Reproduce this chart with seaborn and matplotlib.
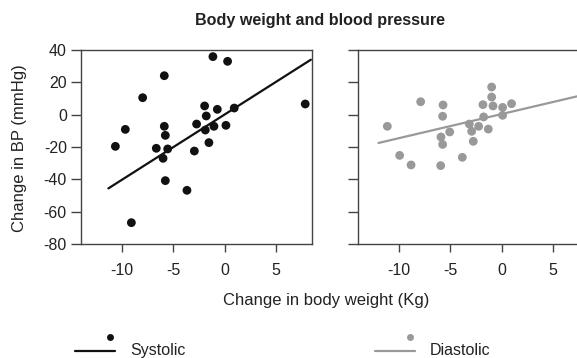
import matplotlib
matplotlib.use("Agg")
import matplotlib.pyplot as plt
import seaborn as sns
from matplotlib.lines import Line2D

sns.set_style("white")
plt.rcParams['font.family'] = ['Liberation Sans', 'DejaVu Sans']

# Systolic data
sys_x = [-10.65, -9.68, -9.09, -7.99, -5.88, -5.88, -5.78, -6.66, -5.55, -6.0, -5.78, -3.67, -2.95,
         -2.73, -1.95, -1.79, -1.88, -1.53, -1.04, -1.14, -0.71, 0.13, 0.29, 0.94, 7.86]
sys_y = [-19.6, -9.1, -66.8, 10.5, 24.1, -7.2, -12.8, -20.8, -21.2, -27.0, -40.8, -46.8, -22.5,
         -5.8, 5.4, -0.8, -9.5, -17.3, -7.2, 35.9, 3.3, -6.6, 33.0, 4.1, 6.6]
# Diastolic data
dia_x = [-11.14, -9.94, -8.83, -7.89, -5.71, -5.75, -5.91, -5.75, -5.94, -5.06, -3.83, -3.15,
         -2.92, -2.76, -2.24, -1.82, -1.75, -1.30, -0.97, -0.97, -0.84, 0.10, 0.10, 0.97]
dia_y = [-7.2, -25.2, -31.1, 8.0, 6.0, -1.0, -13.8, -18.4, -31.5, -10.7, -26.4, -5.8,
         -10.3, -16.5, -7.2, 6.2, -1.4, -8.9, 17.1, 10.9, 5.4, 4.5, -0.4, 6.8]
# Fitted lines (endpoints)
sys_fit_x = [-11.33, 8.41]
sys_fit_y = [-45.6, 34.0]
dia_fit_x = [-12.0, 8.41]
dia_fit_y = [-17.5, 12.9]

x_ticks = [-10, -5, 0, 5]
y_ticks = [-80, -60, -40, -20, 0, 20, 40]

W, H = 577, 358
fig = plt.figure(figsize=(W / 100, H / 100), dpi=100)

def px_rect(x0, y0, x1, y1):
    return [x0 / W, 1 - y1 / H, (x1 - x0) / W, (y1 - y0) / H]

axL = fig.add_axes(px_rect(80.7, 50, 312.3, 244))
axR = fig.add_axes(px_rect(357.7, 50, 589.3, 244))

spine_c = "#444444"
text_c = "#222222"
sys_c = "#111111"
dia_c = "#999999"

sns.scatterplot(x=sys_x, y=sys_y, ax=axL, color=sys_c, s=40, edgecolor="none", zorder=3)
sns.lineplot(x=sys_fit_x, y=sys_fit_y, ax=axL, color=sys_c, linewidth=1.6, zorder=2)
sns.scatterplot(x=dia_x, y=dia_y, ax=axR, color=dia_c, s=40, edgecolor="none", zorder=3)
sns.lineplot(x=dia_fit_x, y=dia_fit_y, ax=axR, color=dia_c, linewidth=1.6, zorder=2)

for ax in (axL, axR):
    ax.set_xlim(-14.03, 8.55)
    ax.set_ylim(-80, 40)
    ax.set_xticks(x_ticks)
    ax.set_xticklabels([str(v) for v in x_ticks])
    ax.set_yticks(y_ticks)
    for s in ax.spines.values():
        s.set_color(spine_c)
        s.set_linewidth(1.0)
        s.set_visible(True)
    ax.tick_params(direction="out", width=1.0, color=spine_c,
                   labelsize=11.5, labelcolor=text_c, bottom=True, left=True)
    ax.tick_params(axis="x", length=6, pad=8)
    ax.tick_params(axis="y", length=7, pad=3)
    ax.set_xlabel("")
    ax.set_ylabel("")

axL.set_yticklabels([str(v) for v in y_ticks])
axR.set_yticklabels([])

fig.text(320 / W, 1 - 20 / H, "Body weight and blood pressure", ha="center", va="center",
         fontsize=11.6, fontweight="bold", color=text_c)
fig.text(20 / W, 1 - 148 / H, "Change in BP (mmHg)", ha="center", va="center",
         rotation=90, fontsize=12, color=text_c)
fig.text(326 / W, 1 - 301 / H, "Change in body weight (Kg)", ha="center", va="center",
         fontsize=12, color=text_c)

# Legend
def add_legend(x0, color, label):
    fig.add_artist(Line2D([x0 / W, (x0 + 40) / W], [1 - 351 / H, 1 - 351 / H],
                          color=color, linewidth=1.6, transform=fig.transFigure))
    fig.add_artist(Line2D([(x0 + 35) / W], [1 - 337 / H], marker="o", markersize=5,
                          color=color, markeredgewidth=0, linestyle="none",
                          transform=fig.transFigure))
    fig.text((x0 + 55) / W, 1 - 350.5 / H, label, ha="left", va="center", fontsize=11.5,
             color=text_c)

add_legend(75, sys_c, "Systolic")
add_legend(375, dia_c, "Diastolic")

fig.savefig("out.png", dpi=100)
